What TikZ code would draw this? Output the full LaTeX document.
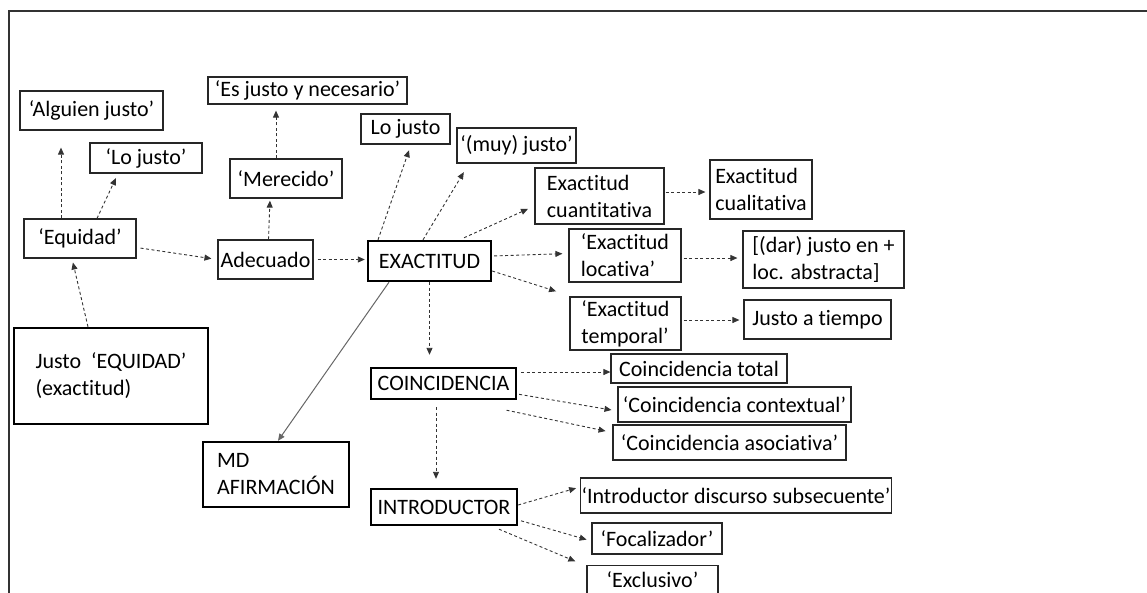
\documentclass[tikz,border=0pt]{standalone}
\usepackage{fontspec}
\setmainfont{Carlito}[Ligatures=NoCommon]
\usepackage{tikz}
\usetikzlibrary{arrows.meta,calc}

\begin{document}
\begin{tikzpicture}[x=1pt, y=-1pt,
    box/.style={rectangle, draw=black!85, line width=1.2pt, inner sep=1pt, align=left, font=\fontsize{22}{27}\selectfont},
    mainbox/.style={box, draw=black, line width=2.4pt},
    sz/.style 2 args={minimum width=#1pt, minimum height=#2pt},
    arrow/.style={-{Triangle[length=7pt,width=6pt]}, draw=black!80, line width=0.9pt, dash pattern=on 3pt off 2.5pt},
    link/.style={-{Triangle[length=7pt,width=6pt]}, draw=black!60, line width=1pt}
]
\clip (0,0) rectangle (1147,592);
\draw[line width=2pt, black!80] (1150,11) -| (9,600);

% left branch
\node[mainbox, sz={194}{96}] (justoeq) at (111,376) {Justo\ \ ‘EQUIDAD’\\(exactitud)};
\node[box, sz={112}{39}] (equidad)  at (80,238.5)  {‘Equidad’};
\node[box, sz={143}{39}] (alguien)  at (91.5,110.5) {‘Alguien justo’};
\node[box, sz={112}{30}] (lojusto1) at (146,158)   {‘Lo justo’};
\node[box, sz={95}{39}]  (adecuado) at (265.5,259.5) {Adecuado};
\node[box, sz={112}{39}] (merecido) at (286,178.5) {‘Merecido’};
\node[box, sz={199}{27}] (esjusto)  at (307.5,90.5) {‘Es justo y necesario’};

% exactitud
\node[mainbox, sz={123}{40}] (exactitud) at (429.5,261) {EXACTITUD};
\node[box, sz={89}{30}]  (lojusto2) at (405.5,129) {Lo justo};
\node[box, sz={119}{35}] (muyjusto) at (516.5,145.5) {‘(muy) justo’};
\node[box, sz={129}{56}] (cuanti)   at (599.5,196) {Exactitud\\cuantitativa};
\node[box, sz={102}{59}] (cuali)    at (761,189.5) {Exactitud\\cualitativa};
\node[box, sz={112}{53}] (locativa) at (625,255.5) {‘Exactitud\\locativa’};
\node[box, sz={161}{57}] (dar)      at (823.5,259.5) {[(dar) justo en +\\loc. abstracta]};
\node[box, sz={111}{53}] (temporal) at (625.5,323.5) {‘Exactitud\\temporal’};
\node[box, sz={147}{39}] (tiempo)   at (817.5,319.5) {Justo a tiempo};
\node[mainbox, sz={146}{65}] (md) at (276,474.5) {MD\\AFIRMACIÓN};

% coincidencia
\node[mainbox, sz={145}{31}] (coinc) at (443.5,383.5) {COINCIDENCIA};
\node[box, sz={176}{29}] (ctotal)   at (699,368.5) {Coincidencia total};
\node[box, sz={233}{35}] (ccontext) at (734.5,404.5) {‘Coincidencia contextual’};
\node[box, sz={233}{35}] (casoc)    at (729.5,442.5) {‘Coincidencia asociativa’};

% introductor
\node[mainbox, sz={146}{36}] (intro) at (444,507) {INTRODUCTOR};
\node[box, sz={302}{35}] (introdisc) at (736,495.5) {‘Introductor discurso subsecuente’};
\node[box, sz={130}{31}] (focal)     at (657,538.5) {‘Focalizador’};
\node[box, sz={131}{29}] (exclusivo) at (652.5,580) {‘Exclusivo’};

\draw[arrow, shorten >=4pt] ([xshift=-23pt]justoeq.north) -- ([xshift=-8pt]equidad.south);
\draw[arrow, shorten >=17pt] ([xshift=-19pt]equidad.north) -- ([xshift=-30.5pt]alguien.south);
\draw[arrow, shorten >=5pt] ([xshift=17pt]equidad.north) -- ([xshift=-28pt]lojusto1.south);
\draw[arrow, shorten <=4pt, shorten >=6pt] ([yshift=-9pt]equidad.east) -- (adecuado.west);
\draw[arrow, shorten >=2pt] ([xshift=3pt]adecuado.north) -- ([xshift=-16pt]merecido.south);
\draw[arrow, shorten >=6pt] ([xshift=-10pt]merecido.north) -- ([xshift=-31.5pt]esjusto.south);
\draw[arrow, shorten <=4pt, shorten >=2pt] (adecuado.east) -- (adecuado.east -| exactitud.west);

\draw[arrow, shorten >=6pt] ([xshift=-51.5pt]exactitud.north) -- ([xshift=5.5pt]lojusto2.south);
\draw[arrow, shorten >=10pt] ([xshift=-6.5pt]exactitud.north) -- ([xshift=-47.5pt]muyjusto.south);
\draw[arrow, shorten <=5pt, shorten >=7pt] ([xshift=30pt]exactitud.north) -- ([yshift=-10pt]cuanti.west);
\draw[arrow, shorten <=2pt, shorten >=6pt] ([yshift=5pt]exactitud.east) -- ([yshift=2pt]locativa.west);
\draw[arrow, shorten >=14pt] ([yshift=-10pt]exactitud.east) -- ([yshift=28pt]temporal.west);
\draw[arrow, shorten <=1pt, shorten >=4pt] ([yshift=4pt]cuanti.east) -- ([yshift=4pt]cuanti.east -| cuali.west);
\draw[arrow, shorten <=2pt, shorten >=5pt] ([yshift=-2.5pt]locativa.east) -- ([yshift=-2.5pt]locativa.east -| dar.west);
\draw[arrow, shorten <=2pt, shorten >=4pt] ([yshift=3.5pt]temporal.east) -- ([yshift=3.5pt]temporal.east -| tiempo.west);
\draw[arrow, shorten >=12pt] (exactitud.south) -- ([xshift=-14pt]coinc.north);
\draw[link] ([xshift=-40.5pt]exactitud.south) -- ([xshift=2pt]md.north);

\draw[arrow, shorten <=4pt] ([yshift=11.5pt]coinc.east) -- ([yshift=11.5pt]coinc.east -| ctotal.west);
\draw[arrow, shorten <=2pt, shorten >=6pt] ([yshift=-10.5pt]coinc.east) -- ([yshift=-6.5pt]ccontext.west);
\draw[arrow, shorten >=7pt] ([xshift=63pt,yshift=-10pt]coinc.south) -- ([yshift=10pt]casoc.west);
\draw[arrow, shorten <=7pt, shorten >=9pt] ([xshift=-7.5pt]coinc.south) -- ([xshift=-8pt]intro.north);

\draw[arrow, shorten >=4pt] ([yshift=2pt]intro.east) -- ([yshift=8.5pt]introdisc.west);
\draw[arrow, shorten <=3pt, shorten >=5pt] ([yshift=-13pt]intro.east) -- ([yshift=-2.5pt]focal.west);
\draw[arrow, shorten >=12pt] ([xshift=55pt,yshift=-3pt]intro.south) -- ([yshift=14pt]exclusivo.west);
\end{tikzpicture}
\end{document}
